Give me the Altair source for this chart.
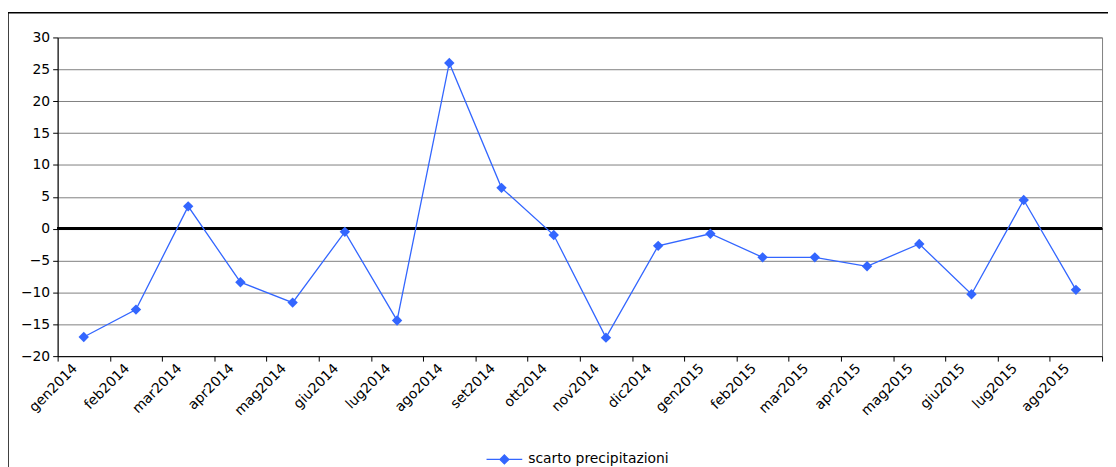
import altair as alt
import pandas as pd

LINE_COLOUR = "#3366ff"
FONT = "DejaVu Sans"

mesi = [
    "gen2014", "feb2014", "mar2014", "apr2014", "mag2014", "giu2014",
    "lug2014", "ago2014", "set2014", "ott2014", "nov2014", "dic2014",
    "gen2015", "feb2015", "mar2015", "apr2015", "mag2015", "giu2015",
    "lug2015", "ago2015",
]
scarto = [
    -17.0, -12.7, 3.5, -8.4, -11.6, -0.5,
    -14.4, 26.0, 6.4, -1.0, -17.1, -2.7,
    -0.8, -4.5, -4.5, -5.9, -2.4, -10.3,
    4.5, -9.6,
]
serie = "scarto precipitazioni"
y_ticks = [-20, -15, -10, -5, 0, 5, 10, 15, 20, 25, 30]

df = pd.DataFrame({"mese": mesi, "scarto": scarto, "serie": serie})

W, H = 1052, 321

line = alt.Chart(df).mark_line(
    strokeWidth=1.3,
    point=alt.OverlayMarkDef(shape="diamond", size=110, filled=True, color=LINE_COLOUR),
).encode(
    x=alt.X("mese:N", sort=mesi, title=None,
            scale=alt.Scale(paddingInner=0, paddingOuter=0),
            axis=alt.Axis(labelAngle=-45, labelAlign="right", labelBaseline="middle",
                          tickBand="extent", labelPadding=5, labelOffset=-9,
                          domainColor="black", tickColor="black", tickSize=5,
                          labelFont=FONT, labelFontSize=14, labelColor="black")),
    y=alt.Y("scarto:Q", title=None,
            scale=alt.Scale(domain=[-20, 30], nice=False, zero=False),
            axis=alt.Axis(values=y_ticks, tickCount=len(y_ticks), labelOverlap=False,
                          grid=True, gridColor="#808080",
                          gridWidth=1, domainColor="black", tickColor="black", tickSize=5,
                          labelPadding=3, labelFont=FONT, labelFontSize=14,
                          labelColor="black")),
    color=alt.Color("serie:N", scale=alt.Scale(range=[LINE_COLOUR]),
                    legend=alt.Legend(title=None, orient="none", legendX=431, legendY=406,
                                      symbolType="M-1,0L1,0M0,-0.25L0.25,0L0,0.25L-0.25,0Z",
                                      symbolSize=1296, symbolStrokeWidth=1.3,
                                      symbolFillColor=LINE_COLOUR, labelOffset=5,
                                      labelFont=FONT, labelFontSize=14,
                                      labelColor="black")),
)

zero_rule = alt.Chart(df).mark_rule(color="black", strokeWidth=2.5).encode(
    y=alt.datum(0)
)

frame = alt.Chart(pd.DataFrame({"k": [0]})).mark_rect(
    fill=None, stroke="black", strokeWidth=1.5
).encode(
    x=alt.value(-50), x2=alt.value(W + 20),
    y=alt.value(-25), y2=alt.value(H + 150),
)

chart = alt.layer(frame, zero_rule, line).properties(
    width=W, height=H,
    autosize=alt.AutoSizeParams(type="none"),
    padding={"left": 50, "top": 28, "right": 6, "bottom": 110},
).configure_view(
    stroke="#808080", strokeWidth=1
)

chart.save("out.html", embed_options={"renderer": "svg", "actions": False})
